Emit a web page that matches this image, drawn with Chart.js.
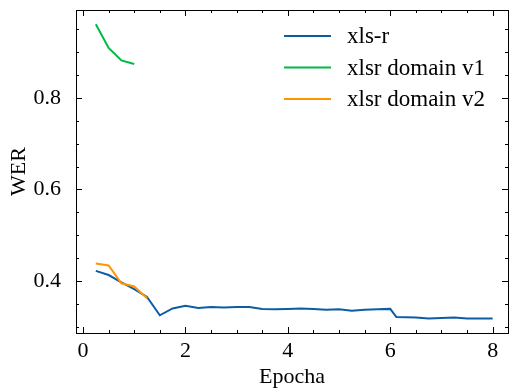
<!DOCTYPE html>
<html>
<head>
<meta charset="utf-8">
<script src="https://cdn.jsdelivr.net/npm/chart.js@4/dist/chart.umd.min.js"></script>
<style>
  html, body { margin: 0; padding: 0; background: #fff; }
  #wrap { width: 509px; height: 391px; }
</style>
</head>
<body>
<div id="wrap"><canvas id="myChart" width="509" height="391"></canvas></div>
<script>
// dữ liệu
var epochsR  = [0.25, 0.5, 0.75, 1.0, 1.25, 1.5, 1.75, 2.0, 2.25, 2.5, 2.75, 3.0, 3.25, 3.5, 3.75, 4.0, 4.25, 4.5, 4.75, 5.0, 5.25, 5.5, 5.75, 6.0, 6.12, 6.5, 6.75, 7.0, 7.25, 7.5, 7.75, 8.0];
var werR     = [0.422, 0.413, 0.397, 0.382, 0.365, 0.325, 0.340, 0.346, 0.341, 0.343, 0.342, 0.343, 0.343, 0.339, 0.338, 0.339, 0.340, 0.339, 0.337, 0.338, 0.335, 0.337, 0.338, 0.339, 0.321, 0.320, 0.318, 0.319, 0.320, 0.318, 0.318, 0.318];
var epochsV1 = [0.25, 0.5, 0.75, 1.0];
var werV1    = [0.961, 0.909, 0.882, 0.874];
var epochsV2 = [0.25, 0.5, 0.75, 1.0, 1.25];
var werV2    = [0.438, 0.434, 0.395, 0.388, 0.362];
var labels   = ['xls-r', 'xlsr domain v1', 'xlsr domain v2'];
var colors   = ['#0C5DA5', '#00B945', '#FF9500'];
var xTicks   = [0, 2, 4, 6, 8];
var yTicks   = [0.4, 0.6, 0.8];

function pts(xs, ys) {
    return xs.map(function (x, i) { return { x: x, y: ys[i] }; });
}

var FONT = 'Liberation Serif';
Chart.defaults.font.family = FONT;
Chart.defaults.color = '#000';

// vẽ khung + vạch chia hướng vào trong + chú thích
var khung = {
    id: 'khung',
    afterDraw: function (chart) {
        var ctx = chart.ctx;
        var a = chart.chartArea;
        var xs = chart.scales.x, ys = chart.scales.y;
        ctx.save();
        ctx.strokeStyle = '#000';
        ctx.lineWidth = 1;
        ctx.strokeRect(a.left + 0.5, a.top + 0.5, a.right - a.left, a.bottom - a.top);
        ctx.beginPath();
        var v, p, k;
        for (k = Math.ceil(xs.min / 0.5); k * 0.5 <= xs.max; k++) {
            v = k * 0.5;
            p = Math.round(xs.getPixelForValue(v)) + 0.5;
            var L = (k % 4 === 0) ? 6 : 3;
            ctx.moveTo(p, a.bottom); ctx.lineTo(p, a.bottom - L);
            ctx.moveTo(p, a.top); ctx.lineTo(p, a.top + L);
        }
        for (k = Math.ceil(ys.min / 0.05 - 1e-9); k * 0.05 <= ys.max + 1e-9; k++) {
            v = k * 0.05;
            p = Math.round(ys.getPixelForValue(v)) + 0.5;
            var M = (k % 4 === 0) ? 6 : 3;
            ctx.moveTo(a.left, p); ctx.lineTo(a.left + M, p);
            ctx.moveTo(a.right, p); ctx.lineTo(a.right - M, p);
        }
        ctx.stroke();

        // chú thích
        ctx.font = '23px ' + FONT;
        ctx.textBaseline = 'middle';
        ctx.fillStyle = '#000';
        chart.data.datasets.forEach(function (ds, i) {
            var y = 36 + i * 31.5;
            ctx.strokeStyle = ds.borderColor;
            ctx.lineWidth = 2;
            ctx.beginPath();
            ctx.moveTo(284, y); ctx.lineTo(331, y);
            ctx.stroke();
            ctx.fillText(ds.label, 347, y + 1);
        });
        ctx.restore();
    }
};

var bieudo = new Chart('myChart', {
    type: 'line',
    data: {
        datasets: [{
            label: labels[0], data: pts(epochsR, werR), borderColor: colors[0], order: 3
        }, {
            label: labels[1], data: pts(epochsV1, werV1), borderColor: colors[1], order: 2
        }, {
            label: labels[2], data: pts(epochsV2, werV2), borderColor: colors[2], order: 1
        }]
    },
    options: {
        responsive: false,
        animation: false,
        elements: {
            line: { borderWidth: 2, fill: false, tension: 0 },
            point: { radius: 0 }
        },
        layout: { padding: { top: 10, right: 1, left: 0, bottom: 0 } },
        plugins: { legend: { display: false }, tooltip: { enabled: false } },
        scales: {
            x: {
                type: 'linear', min: -0.137, max: 8.30,
                grid: { display: false }, border: { display: false },
                afterBuildTicks: function (s) { s.ticks = xTicks.map(function (v) { return { value: v }; }); },
                afterFit: function (s) { s.height = 58; s.paddingLeft = 0; s.paddingRight = 0; },
                ticks: { font: { size: 22 }, padding: -3, maxRotation: 0, callback: function (v) { return v; } },
                title: { display: true, text: 'Epocha', font: { size: 22 }, padding: { top: 0, bottom: 1 } }
            },
            y: {
                type: 'linear', min: 0.2863, max: 0.9920,
                grid: { display: false }, border: { display: false },
                afterBuildTicks: function (s) { s.ticks = yTicks.map(function (v) { return { value: v }; }); },
                afterFit: function (s) { s.width = 76; s.paddingTop = 0; s.paddingBottom = 0; },
                ticks: { font: { size: 22 }, padding: 7, callback: function (v) { return v.toFixed(1); } },
                title: { display: true, text: 'WER', font: { size: 22 }, padding: { top: 6, bottom: 0 } }
            }
        }
    },
    plugins: [khung]
});
</script>
</body>
</html>
